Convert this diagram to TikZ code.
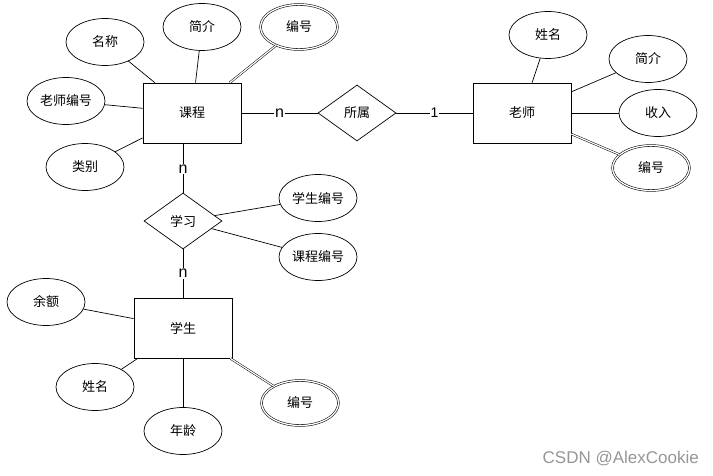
\documentclass[tikz,border=0pt]{standalone}
\usepackage{fontspec}
\setmainfont{Noto Sans CJK SC}
\newfontfamily\latinsans{Liberation Sans}
\usetikzlibrary{shapes.geometric}
\definecolor{wm}{RGB}{150,150,150}
\tikzset{
  ent/.style={draw, line width=0.8pt, rectangle, minimum width=98pt, minimum height=60pt, inner sep=0pt, font=\fontsize{13}{15}\selectfont},
  attr/.style={draw, line width=0.7pt, ellipse, minimum width=78pt, minimum height=47pt, inner sep=0pt, font=\fontsize{13}{15}\selectfont},
  keyattr/.style={attr, double, double distance=1.3pt, line width=0.55pt, minimum width=77pt, minimum height=45pt},
  rel/.style={draw, line width=0.7pt, diamond, minimum width=78pt, minimum height=56pt, inner sep=0pt, font=\fontsize{13}{15}\selectfont},
  conn/.style={line width=0.7pt},
  keyconn/.style={double, double distance=1.2pt, line width=0.5pt},
  card/.style={fill=white, inner sep=1pt, font=\latinsans\fontsize{16}{18}\selectfont},
}
\begin{document}
\begin{tikzpicture}[x=1pt,y=-1pt]
\useasboundingbox (0,0) rectangle (713,476);
% entities
\node[ent] (kc) at (192,113) {课程};
\node[ent] (ls) at (522,113) {老师};
\node[ent] (xs) at (183,328) {学生};
% relations
\node[rel] (ss) at (357,113) {所属};
\node[rel] (xx) at (183,221) {学习};
% course attributes
\node[attr] (mc) at (105,42) {名称};
\node[attr] (jj1) at (202,27) {简介};
\node[keyattr] (bh1) at (299,27) {编号};
\node[attr] (lsbh) at (66,101) {老师编号};
\node[attr] (lb) at (85,167) {类别};
% teacher attributes
\node[attr] (xm1) at (548,35) {姓名};
\node[attr] (jj2) at (648,59) {简介};
\node[attr] (sr) at (658,113) {收入};
\node[keyattr] (bh2) at (651,168) {编号};
% study attributes
\node[attr] (xsbh) at (318,198) {学生编号};
\node[attr] (kcbh) at (318,257) {课程编号};
% student attributes
\node[attr] (ye) at (46,302) {余额};
\node[attr] (xm2) at (95,387) {姓名};
\node[attr] (nl) at (183,431) {年龄};
\node[keyattr] (bh3) at (300,403) {编号};
% connectors
\draw[conn] (mc) -- (kc);
\draw[conn] (jj1) -- (kc);
\draw[keyconn] (bh1) -- (kc);
\draw[conn] (lsbh) -- (kc);
\draw[conn] (lb) -- (kc);
\draw[conn] (xm1) -- (ls);
\draw[conn] (jj2) -- (ls);
\draw[conn] (sr) -- (ls);
\draw[keyconn] (bh2) -- (ls);
\draw[conn] (xsbh) -- (xx);
\draw[conn] (kcbh) -- (xx);
\draw[conn] (ye) -- (xs);
\draw[conn] (xm2) -- (xs);
\draw[conn] (nl) -- (xs);
\draw[keyconn] (bh3) -- (xs);
\draw[conn] (kc) -- node[card, pos=0.5] {n} (ss);
\draw[conn] (ss) -- node[card, pos=0.5, font=\latinsans\fontsize{14}{16}\selectfont] {1} (ls);
\draw[conn] (xx.north |- kc.south) -- node[card, pos=0.52] {n} (xx.north);
\draw[conn] (xx) -- node[card, pos=0.5] {n} (xs);
% watermark
\node[text=wm, font=\latinsans\fontsize{17}{19}\selectfont, anchor=east, inner sep=0pt] (wmk) at (699,459) {CSDN @AlexCookie};
\end{tikzpicture}
\end{document}
